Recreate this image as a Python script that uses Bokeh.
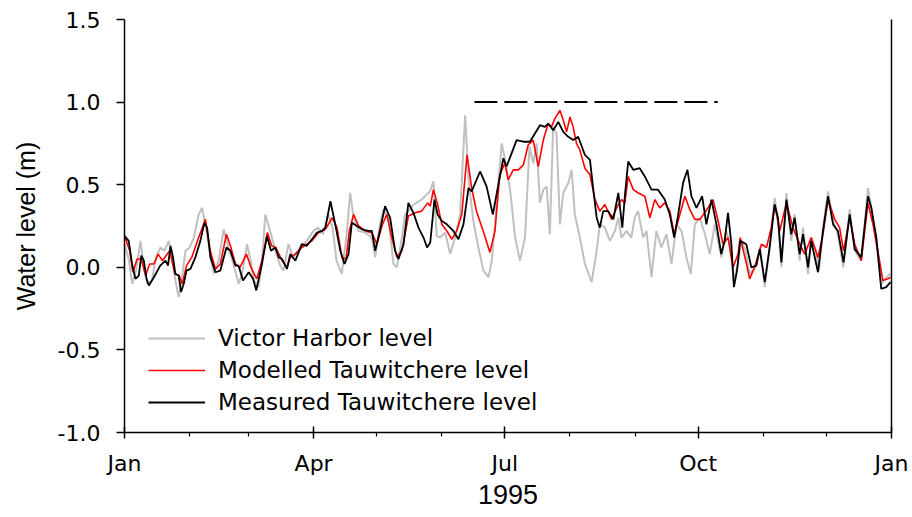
from bokeh.plotting import figure
from bokeh.models import FixedTicker, Legend, LegendItem, Range1d, LinearAxis
from bokeh.embed import file_html
from bokeh.resources import INLINE

# ---------------- data (day of year 1995, water level in m) ----------------
vh_day = [0, 2, 3.7, 5.5, 7.6, 9, 10.8, 13, 15, 17.1, 19, 21.1, 23, 24.5, 25.8, 27.5, 29, 31, 33, 35.3,
          36.9, 39, 41, 42.5, 44.8, 47.2, 49.5, 51.8, 54.3, 56, 58.3, 60, 61.5, 63.8, 65.3, 67, 69.3, 71.8,
          74.1, 75.7, 78, 80.3, 83.5, 86.8, 89.9, 92.1, 94.5, 96.9, 99, 100.9, 103.4, 105.7, 107.4, 109,
          111.4, 114.5, 117.7, 119.3, 121.7, 123.2, 125.6, 128, 129.6, 132, 133.5, 135.1, 137.5, 141.4,
          145.4, 147, 148.6, 150.2, 152.6, 155, 157.3, 159.7, 162.1, 163.7, 166, 168.4, 170.8, 173.2,
          174.8, 177.1, 179.5, 181.1, 183.5, 185.9, 188.2, 190.6, 192.7, 194.5, 196.1, 197.7, 199.3,
          200.9, 202.4, 204, 205.6, 207.2, 208.8, 211.2, 212.8, 214.3, 216.7, 219.1, 222.3, 224.7, 226.2,
          228.6, 231, 233.4, 235, 236.5, 238.9, 241.2, 242.8, 244.4, 246.8, 248.4, 250.8, 253.1, 255.5,
          257.9, 260.3, 262.7, 265.1, 267.4, 269.5, 271.4, 273.8, 276.2, 278.5, 280.9, 284, 286.4, 288,
          290, 291.9, 293.5, 295.5, 297.5, 300, 302.5, 304.7, 307, 309.4, 311, 312.6, 315, 317.3, 318.9,
          321.3, 322.9, 325.3, 326.8, 329, 330.5, 332.4, 334.8, 337.2, 339.5, 342, 345.1, 347.5, 350.6,
          353.8, 355.4, 357.8, 360.1, 362.5, 364.5]
vh_level = [0.14, 0.05, -0.10, -0.02, 0.16, 0.02, -0.10, -0.08, 0.06, 0.12, 0.10, 0.16, 0.02, -0.10, -0.18,
            -0.05, 0.10, 0.12, 0.18, 0.32, 0.36, 0.22, 0.06, -0.04, 0.04, 0.23, 0.12, 0.02, -0.10, -0.04,
            0.14, 0.04, -0.08, -0.12, 0.02, 0.32, 0.22, 0.10, 0.01, -0.02, 0.14, 0.06, 0.12, 0.16, 0.22,
            0.24, 0.20, 0.32, 0.24, 0.04, -0.04, 0.20, 0.45, 0.30, 0.22, 0.21, 0.18, 0.06, 0.27, 0.35,
            0.30, 0.02, 0.00, 0.18, 0.32, 0.34, 0.38, 0.41, 0.46, 0.52, 0.19, 0.18, 0.21, 0.08, 0.18,
            0.32, 0.92, 0.53, 0.28, 0.12, -0.02, -0.06, 0.04, 0.39, 0.75, 0.65, 0.47, 0.18, 0.04, 0.18,
            0.73, 0.63, 0.75, 0.39, 0.47, 0.49, 0.20, 0.85, 0.81, 0.26, 0.45, 0.51, 0.59, 0.32, 0.18,
            0.02, -0.09, 0.10, 0.26, 0.24, 0.16, 0.22, 0.30, 0.18, 0.22, 0.18, 0.30, 0.34, 0.18, 0.22,
            -0.06, 0.22, 0.12, 0.20, 0.02, 0.26, 0.22, 0.06, -0.04, 0.26, 0.30, 0.20, 0.08, 0.26, 0.06,
            0.22, 0.14, -0.08, 0.02, 0.16, 0.10, -0.04, 0.00, 0.12, -0.12, 0.12, 0.42, 0.28, 0.00, 0.45,
            0.16, 0.32, 0.04, 0.24, -0.04, 0.18, 0.10, -0.02, 0.24, 0.46, 0.28, 0.20, 0.00, 0.35, 0.10,
            0.04, 0.48, 0.36, 0.14, -0.10, -0.06, -0.04]

mod_day = [0, 2.5, 4, 6, 8, 10, 12, 14, 16, 18, 21.5, 24, 26, 27.5, 29.5, 32, 35, 38.5, 40.8, 43.3, 45.6,
           48.5, 50.4, 52.8, 55, 58, 60.5, 62.9, 65.4, 68, 70, 72, 75, 77.3, 78.9, 81.3, 84.4, 86.8, 89.2,
           92.4, 95.6, 98.8, 101.1, 103.5, 105.4, 107, 109, 111.4, 114.5, 117.7, 120.1, 122.5, 124.8,
           127.2, 129.6, 132, 135.1, 138.3, 141.4, 144.3, 145.5, 147, 149, 151, 153.4, 155.7, 158.1, 160.5,
           163, 165.2, 167.5, 170.7, 173.9, 176.3, 178.6, 181, 182.6, 185, 187.4, 189.8, 192.1, 194.5,
           196.9, 199.3, 201.6, 203.2, 204.8, 207.2, 208.8, 210.4, 212, 213.5, 215.1, 216.7, 219.1, 221.5,
           223.9, 226.2, 228.6, 231.8, 234.2, 236.5, 238.1, 239.7, 242.1, 244.5, 247.6, 250, 252.4, 254.7,
           257.1, 259.5, 261.6, 264.3, 266.7, 269, 271.4, 273.8, 277.7, 280.1, 282.5, 284.8, 287.2, 289.6,
           292, 293, 296, 297.5, 299.9, 303.1, 305.5, 307.8, 309.4, 311.8, 315, 318.1, 321.3, 323.7, 326.8,
           330, 332.4, 334.8, 338, 340.3, 342.2, 345.1, 347.5, 350.6, 353.8, 356.2, 358.5, 360.9, 363.3, 364.5]
mod_level = [0.19, 0.10, -0.03, 0.05, 0.05, -0.05, 0.02, 0.02, 0.08, 0.04, 0.10, -0.04, -0.05, -0.10, 0.01,
             0.06, 0.17, 0.29, 0.10, -0.01, 0.02, 0.20, 0.13, 0.02, 0.00, 0.08, -0.01, -0.07, 0.04, 0.21,
             0.13, 0.12, 0.04, 0.00, 0.06, 0.08, 0.12, 0.14, 0.16, 0.21, 0.23, 0.30, 0.24, 0.06, 0.05, 0.22,
             0.32, 0.25, 0.22, 0.21, 0.14, 0.25, 0.32, 0.18, 0.06, 0.10, 0.31, 0.33, 0.34, 0.39, 0.37, 0.47,
             0.38, 0.26, 0.22, 0.17, 0.22, 0.32, 0.68, 0.48, 0.34, 0.22, 0.09, 0.22, 0.56, 0.63, 0.53, 0.59,
             0.59, 0.62, 0.74, 0.77, 0.61, 0.77, 0.87, 0.85, 0.90, 0.95, 0.89, 0.82, 0.91, 0.85, 0.75, 0.71,
             0.60, 0.56, 0.41, 0.34, 0.38, 0.29, 0.36, 0.41, 0.39, 0.55, 0.47, 0.45, 0.43, 0.30, 0.41, 0.36,
             0.39, 0.34, 0.20, 0.32, 0.43, 0.35, 0.29, 0.29, 0.36, 0.41, 0.28, 0.14, 0.18, 0.00, 0.08, 0.18,
             0.02, -0.07, 0.00, 0.14, 0.12, 0.24, 0.38, 0.22, 0.39, 0.24, 0.14, 0.08, 0.18, 0.06, 0.20, 0.41,
             0.29, 0.24, 0.10, 0.30, 0.14, 0.04, 0.39, 0.26, 0.10, -0.08, -0.07, -0.06]

meas_day = [0, 2, 3.6, 5.2, 6.8, 8, 9.2, 10.5, 11.6, 14, 17, 19.5, 20.7, 21.9, 23.1, 24.2, 25.8, 26.9, 28.2,
            29.5, 31.4, 33.7, 36.1, 38, 39.3, 40.9, 43.3, 45.6, 48.5, 50.4, 52.8, 54.3, 56.4, 59.1, 61.2,
            62.7, 65.4, 67.8, 69.7, 71.8, 73.4, 75, 77.3, 78.9, 81.3, 84.4, 86.8, 89.2, 91.6, 94, 95.6, 98,
            100.3, 102.7, 104.7, 106.6, 108.2, 110.6, 113, 116.1, 117.7, 119.3, 121.7, 124, 126.4, 128.8,
            130.4, 132.8, 135.1, 137.5, 139.9, 142.3, 144, 145.5, 147.5, 149, 151, 153.4, 156.5, 158.9,
            161.3, 163.7, 165.2, 169.2, 172.3, 175.3, 177.9, 180.3, 181.8, 184.2, 186.6, 189.8, 192.9,
            195.3, 197.7, 200.1, 201.6, 204, 206.4, 208.8, 211.2, 213.5, 215.9, 219.1, 221.5, 223.1, 224.7,
            226.2, 227.8, 230.2, 232.6, 235, 236.9, 238.1, 239.7, 242.1, 245.2, 247.6, 250.8, 253.9, 257.1,
            259.5, 261.6, 263.5, 265.8, 267.9, 269.8, 272.2, 274.9, 276.9, 279.3, 281.7, 284, 285.6, 287.2,
            288.8, 290, 291.5, 293, 295.9, 298.3, 300.7, 302.3, 304.7, 307, 309.4, 311, 312.6, 315, 317.3,
            318.9, 321.3, 322.9, 325.3, 326.8, 330, 332.4, 334.8, 337.2, 339.5, 342.2, 345.1, 347.5, 350.6,
            353.8, 355.4, 357.8, 360.1, 362.5, 364.5]
meas_level = [0.19, 0.16, 0.02, -0.07, -0.05, 0.07, 0.04, -0.07, -0.11, -0.06, 0.01, 0.04, 0.01, 0.13,
              0.06, -0.04, -0.05, -0.15, -0.10, -0.02, -0.01, 0.06, 0.16, 0.27, 0.24, 0.06, -0.03, -0.02,
              0.12, 0.10, 0.01, 0.01, -0.08, -0.03, -0.07, -0.14, 0.02, 0.19, 0.10, 0.12, 0.06, 0.05, -0.01,
              0.08, 0.04, 0.14, 0.13, 0.17, 0.21, 0.22, 0.24, 0.40, 0.26, 0.10, 0.02, 0.08, 0.27, 0.25, 0.23,
              0.22, 0.22, 0.10, 0.23, 0.37, 0.30, 0.10, 0.05, 0.14, 0.39, 0.33, 0.24, 0.18, 0.12, 0.15,
              0.41, 0.32, 0.28, 0.26, 0.22, 0.17, 0.26, 0.48, 0.46, 0.58, 0.49, 0.32, 0.50, 0.66, 0.61,
              0.69, 0.77, 0.76, 0.76, 0.81, 0.86, 0.85, 0.87, 0.83, 0.88, 0.82, 0.79, 0.77, 0.79, 0.68,
              0.65, 0.47, 0.30, 0.24, 0.34, 0.34, 0.29, 0.45, 0.24, 0.43, 0.64, 0.59, 0.60, 0.55, 0.47,
              0.47, 0.41, 0.32, 0.18, 0.32, 0.51, 0.59, 0.43, 0.36, 0.43, 0.26, 0.41, 0.26, 0.08, 0.16,
              0.33, 0.14, -0.12, -0.02, 0.16, 0.14, 0.00, 0.01, 0.11, -0.09, 0.12, 0.38, 0.30, 0.03, 0.41,
              0.20, 0.30, 0.08, 0.20, 0.00, 0.16, -0.03, 0.22, 0.43, 0.26, 0.22, 0.03, 0.32, 0.11, 0.06,
              0.43, 0.36, 0.18, -0.13, -0.12, -0.09]

ref_day = [166.5, 282.3]   # dashed reference level
ref_level = [1.0, 1.0]

month_ticks = [0, 90, 181, 273, 365]
month_labels = ["Jan", "Apr", "Jul", "Oct", "Jan"]
minor_months = [31, 59, 120, 151, 212, 243, 304, 334]
y_ticks = [-1.0, -0.5, 0.0, 0.5, 1.0, 1.5]
y_labels = ["-1.0", "-0.5", "0.0", "0.5", "1.0", "1.5"]

TICK_FONT = "DejaVu Sans"
TITLE_FONT = "Liberation Sans"

p = figure(width=912, height=517, output_backend="svg", toolbar_location=None,
           x_range=Range1d(0, 365), y_range=Range1d(-1.0, 1.5),
           min_border_left=124, min_border_right=21, min_border_top=19, min_border_bottom=85)
p.grid.visible = False
p.outline_line_color = None

r_vh = p.line(vh_day, vh_level, line_color="#c0c0c0", line_width=2)
r_mod = p.line(mod_day, mod_level, line_color="#ff0000", line_width=1.6)
r_meas = p.line(meas_day, meas_level, line_color="#000000", line_width=1.8)
p.line(ref_day, ref_level, line_color="black", line_width=2, line_dash="23 7")

right = LinearAxis(ticker=FixedTicker(ticks=[]), major_tick_out=0, major_tick_in=0,
                   minor_tick_out=0, minor_tick_in=0, major_label_text_font_size="0px",
                   axis_line_width=1.5, axis_line_color="black")
p.add_layout(right, "right")

xa = p.xaxis[0]
xa.ticker = FixedTicker(ticks=month_ticks, minor_ticks=minor_months)
xa.major_label_overrides = {t: l for t, l in zip(month_ticks, month_labels)}
xa.axis_label = "1995"
xa.major_tick_in = 6
xa.major_tick_out = 6
xa.minor_tick_in = 0
xa.minor_tick_out = 4
xa.major_label_standoff = 12

ya = p.yaxis[0]
ya.ticker = FixedTicker(ticks=y_ticks, minor_ticks=[])
ya.major_label_overrides = {t: l for t, l in zip(y_ticks, y_labels)}
ya.axis_label = "Water level (m)"
ya.major_tick_in = 0
ya.major_tick_out = 8
ya.major_label_standoff = 16
ya.axis_label_standoff = 15

for ax in (xa, ya):
    ax.axis_line_width = 1.5
    ax.major_tick_line_width = 1.5
    ax.minor_tick_line_width = 1.2
    ax.axis_line_color = "black"
    ax.major_label_text_font = TICK_FONT
    ax.major_label_text_font_size = "22px"
    ax.major_label_text_color = "black"
    ax.axis_label_text_font = TITLE_FONT
    ax.axis_label_text_font_size = "25px"
    ax.axis_label_text_font_style = "normal"
    ax.axis_label_text_color = "black"
xa.axis_label_standoff = 6
xa.axis_label_text_font_size = "27px"

legend = Legend(items=[LegendItem(label="Victor Harbor level", renderers=[r_vh]),
                       LegendItem(label="Modelled Tauwitchere level", renderers=[r_mod]),
                       LegendItem(label="Measured Tauwitchere level", renderers=[r_meas])],
                location=(24, 14), orientation="vertical",
                glyph_width=57, glyph_height=32, label_height=32, label_standoff=13, spacing=0,
                padding=0, margin=0, border_line_alpha=0, background_fill_alpha=0,
                label_text_font=TICK_FONT, label_text_font_size="23px", label_text_color="black")
p.add_layout(legend)

open("out.html", "w").write(file_html(p, INLINE))
